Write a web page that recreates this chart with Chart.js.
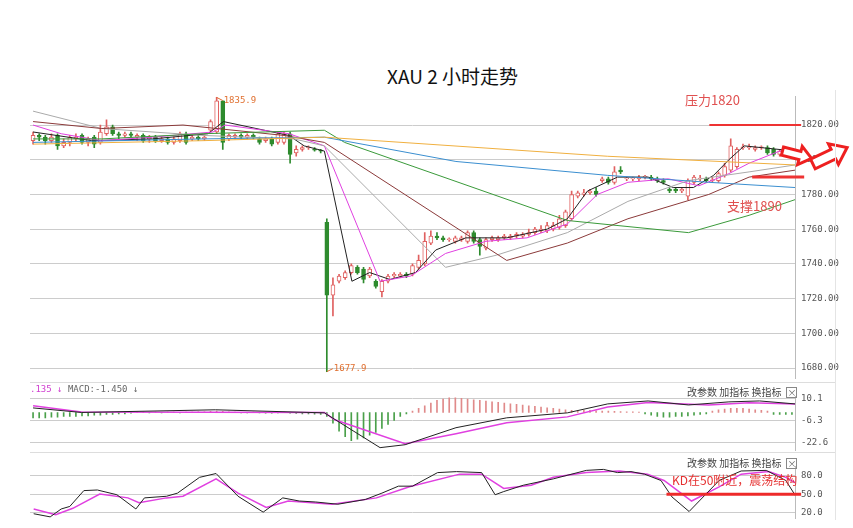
<!DOCTYPE html>
<html><head><meta charset="utf-8">
<script src="https://cdn.jsdelivr.net/npm/chart.js@4.4.0/dist/chart.umd.min.js"></script>
<style>
body{margin:0;background:#fff;width:853px;height:528px;overflow:hidden;position:relative;font-family:"Noto Sans CJK SC",sans-serif}
.p{position:absolute;left:0;width:853px}
.t{position:absolute;white-space:nowrap}
.hdr{font-size:10px;color:#444;letter-spacing:0}
.xb{display:inline-block;width:9px;height:9px;border:1px solid #888;font-size:9px;line-height:9px;text-align:center;color:#666;margin-left:5px}
</style></head><body>
<div class="t" style="left:0;width:905px;text-align:center;top:62px;font-size:19px;color:#111">XAU 2 小时走势</div>
<div class="p" style="top:85px;height:305px"><canvas id="c1" width="853" height="305"></canvas></div>
<div class="p" style="top:382px;height:80px"><canvas id="c2" width="853" height="80"></canvas></div>
<div class="p" style="top:452px;height:78px"><canvas id="c3" width="853" height="78"></canvas></div>
<div class="t" style="left:685px;top:90px;font-size:13px;color:#e05050">压力1820</div>
<div class="t" style="left:727px;top:196px;font-size:13px;color:#e05050">支撑1890</div>
<div class="t" style="left:30px;top:384px;font-size:9px;font-family:'DejaVu Sans Mono'"><span style="color:#d040d0">.135 ↓</span> <span style="color:#666">MACD:-1.450 ↓</span></div>
<div class="t hdr" style="left:687px;top:384px">改参数 加指标 换指标<span class="xb">×</span></div>
<div class="t hdr" style="left:687px;top:455px">改参数 加指标 换指标<span class="xb">×</span></div>
<div class="t" style="left:672px;top:471px;font-size:12px;color:#e53030">KD在50附近，震荡结构</div>
<script>
const opens =[1811,1814,1813,1811,1814,1808,1810,1812,1814,1810,1813,1810,1815,1819,1815,1814,1815,1813,1814,1812,1813,1811,1812,1810,1811,1815,1812,1813,1812,1817,1816,1834,1812,1813,1814,1813,1814,1812,1811,1812,1810,1810,1815,1804,1806,1807,1806,1805.5,1764,1722,1730,1732,1735,1738,1737,1733,1730,1724,1730,1733,1733,1734,1734,1738,1740,1752,1756,1755,1754,1753,1754,1753,1758,1754,1749,1754,1754,1755,1755,1756,1756,1757,1758,1759,1759,1760,1761,1762,1766,1779,1780,1781,1782,1788,1789,1787,1794,1789,1789,1789,1790,1790,1789,1788,1783,1783,1782,1779,1787,1789,1789,1788,1788,1791,1794,1796,1807,1807,1806,1807,1807,1806,1803,1805,1805];
const closes=[1814,1813,1811,1813,1808,1810,1813,1813,1810,1812,1809,1816,1819,1815,1814,1815,1814,1814,1811,1813,1811,1812,1810,1812,1815,1810,1813,1812,1813,1822,1834,1810,1814,1814,1813,1814,1813,1810,1812,1809,1815,1815,1803,1806,1807,1807.5,1805.5,1805,1722,1728,1733,1735,1739,1735,1731,1737,1727,1730,1733,1734,1734,1733,1739,1742,1753,1756,1755,1754,1754.5,1755,1755,1758,1753,1750,1754,1755,1755,1756,1756,1757,1757,1758,1760,1760,1762,1762,1766,1770,1780,1781,1781,1782,1780,1789,1787,1793,1793,1789.5,1789.5,1790,1790.5,1789,1788,1787,1782,1782,1783,1788,1790,1789.5,1788,1788.5,1792,1796,1808,1806,1807.5,1807.5,1807,1807.5,1804,1803,1805,1804,1803];
const highs =[1816,1815,1814,1815,1815,1812,1814,1815,1815,1813,1814,1820,1823,1820,1816,1816,1816,1815,1815,1814,1814,1813,1813,1813,1816,1816,1814,1814,1814,1823,1835.9,1834,1815,1815,1815,1815,1815,1813,1813,1813,1816,1816,1816,1808,1808,1808,1807,1806,1766,1732,1734,1736,1740,1739,1738,1738,1731,1731,1734,1735,1735,1735,1740,1745,1758,1759,1758,1756,1755,1756,1756,1759,1759,1755,1755,1756,1756,1757,1757,1758,1758,1760,1761,1762,1764,1764,1768,1771,1782,1782,1783,1783,1784,1790,1790,1796,1796,1790,1790,1791,1791,1791,1790,1789,1784,1784,1784,1789,1791,1791,1790,1790,1793,1798,1812,1807,1809,1809,1808,1808,1808,1807,1806,1806,1806];
const lows  =[1809,1811,1809,1810,1806,1807,1808,1811,1809,1808,1807,1809,1814,1814,1812,1813,1813,1811,1810,1810,1810,1810,1809,1809,1810,1809,1811,1811,1811,1816,1815,1806,1811,1812,1812,1812,1812,1809,1810,1808,1809,1809,1798,1802,1805,1806,1805,1804,1677.9,1710,1729,1731,1734,1734,1729,1732,1726,1721,1729,1732,1732,1732,1733,1737,1739,1751,1754,1753,1753,1752,1753,1752,1752,1745,1748,1753,1753,1754,1754,1755,1755,1756,1757,1758,1758,1759,1760,1761,1765,1778,1779,1780,1779,1787,1786,1786,1792,1788,1788,1788,1789,1788,1787,1786,1781,1781,1781,1777,1786,1788,1787,1787,1787,1790,1793,1795,1806,1806,1805,1806,1803,1802,1802,1803,1802];
const ma1=[[0,1816],[9.6,1811],[19.5,1812],[28.6,1815],[31.1,1822],[41.8,1814],[44.3,1808],[47.6,1805],[52.1,1730],[55,1735],[58.3,1731],[62.5,1735],[65.8,1748],[70.7,1755],[77.4,1755],[84,1760],[87.3,1766],[90.6,1782],[95.5,1790],[100.5,1790],[104.6,1784],[107.9,1784],[111.2,1791],[113.7,1800],[116.2,1808],[124.5,1805]];
const ma2=[[0,1820],[4.6,1815],[11.2,1811],[19.5,1813],[29.4,1816],[31.4,1820],[41.8,1815],[47.6,1808],[56.7,1730],[61.7,1733],[67.4,1746],[74,1753],[80.7,1755],[87.3,1763],[92.2,1780],[97.2,1787],[103.8,1789],[108.8,1785],[113.7,1792],[117,1798],[122,1805],[124.5,1805]];
const ma3=[[0,1828],[11.2,1818],[27.8,1814],[42.6,1812],[47.6,1808],[67.4,1738],[75.7,1745],[87.3,1758],[97.2,1776],[107.1,1788],[117,1793],[124.5,1797]];
const ma4=[[0,1822],[11.2,1818],[24.5,1820],[41,1814],[47.6,1810],[77.4,1742],[87.3,1752],[97.2,1766],[110.4,1780],[117,1790],[124.5,1794]];
const ma5=[[0,1812],[11.2,1812],[27.8,1815],[47.6,1817],[50.9,1810],[87.3,1765],[107.1,1758],[117,1768],[124.5,1777]];
const ma6=[[0,1810],[27.8,1812],[47.6,1813],[69.1,1799],[93.9,1791],[110.4,1787],[124.5,1784]];
const ma7=[[0,1809],[27.8,1811],[47.6,1813],[93.9,1802],[124.5,1797]];
const priceTicks=[1680,1700,1720,1740,1760,1780,1800,1820];
const macdHist=[-4,-4,-4,-3.5,-3.5,-3,-3,-3,-2.5,-2.5,-2,-2,-1.5,-1.5,-1,-1,-0.5,
 0.3,0.3,-0.3,0.3,-0.3,0.3,0.3,-0.3,0.3,0.3,0.5,0.5,0.8,1,0.8,0.5,0.3,-0.3,-0.3,0.3,-0.3,-0.5,-0.5,-0.3,0.3,-0.5,-0.8,-1,-1,-1.2,-1.5,
 -3,-8,-14,-18,-21,-20,-19,-17,-15,-12,-9,-6,-3,-1,
 1,3,5,7,9,10,11,11,10.5,10,9.5,9,8.5,8,7.5,7,6.5,6,5.5,5,4.5,4,3.5,3,2.5,2,1.5,1,
 1.5,1.5,1.2,1,1,0.8,0.6,0.5,0.4,0.3,
 -1,-2,-3,-3.5,-3.5,-3,-3,-2.5,-2,-1.5,-1,
 1,2,2.5,3,3,3,2.5,2,1.5,1,
 -1.5,-1.5,-1.5,-1.5];
const dif=[[0,3.4],[7.9,0],[29.8,2],[47.6,-0.3],[56.7,-26.3],[60.8,-24.1],[69.1,-11.4],[77.4,-4],[87.3,-0.3],[93.9,6.4],[100.5,8.6],[107.1,5.6],[113.7,7.9],[118.7,8.6],[124.5,6.4]];
const dea=[[0,5],[7.9,0.4],[47.6,0],[49.3,-5.5],[60.8,-23.3],[69.1,-15.9],[77.4,-7.7],[87.3,-3.3],[93.9,4],[100.5,7.5],[110.4,5.6],[117,7.2],[124.5,6.4]];
const macdTicks=[10.1,-6.3,-22.6];
const kLine=[[0.1,18.4],[2.8,13.3],[4.6,26.1],[6,30.2],[8.3,55.9],[10.5,56.9],[13.7,49.2],[16.8,26.1],[18.2,44.1],[21.8,46.7],[23.6,51.8],[27.2,77.4],[29.9,83.6],[33.5,46.7],[37.6,21],[40.8,44.1],[43.5,39],[46.2,37.4],[49.8,33.8],[54.3,41.5],[57,51.8],[59.7,63.1],[62,63.1],[66.1,85.1],[69.2,86.7],[73.3,85.1],[75.5,49.2],[76.9,54.3],[80.1,64.6],[85,74.9],[90.4,88.7],[93.2,90.3],[95.5,85.1],[97.7,86.7],[99.9,82.6],[102.6,72.3],[104.4,45.6],[107.2,22],[109,40.5],[112.1,72.3],[115.7,87.7],[119.8,88.7],[123,72.3],[124.8,44.1]];
const dLine=[[0.1,26.1],[3.7,16.9],[6.5,27.2],[10.9,50.2],[15.5,44.1],[17.3,36.4],[21.8,44.1],[24.5,46.7],[29.9,74.9],[33.5,51.8],[38.1,28.7],[41.7,39],[48.9,33.8],[56.1,44.1],[61.5,62],[69.7,82.6],[73.3,82.6],[76.9,59.5],[81.4,64.6],[85,77.4],[90.4,85.1],[95.8,87.7],[100.4,82.6],[103.1,72.3],[107.6,39],[112.1,62],[115.7,82.6],[120.2,86.7],[123,77.4],[124.5,69]];
const kdTicks=[80,50,20];

const RED='#e06060', GRN='#2e8b2e';
const idx=opens.map((_,i)=>i);
const up=i=>closes[i]>=opens[i];
const pts=a=>a.map(p=>({x:p[0],y:p[1]}));
const line=(d,c,w)=>({type:'line',data:pts(d),borderColor:c,borderWidth:w||1,pointRadius:0,tension:0,order:0});
const xScale={type:'linear',min:-0.5,max:124.5,display:false,offset:false};
function yScale(min,max,ticks,fmt){return {position:'right',min,max,
  afterBuildTicks:s=>{s.ticks=ticks.map(v=>({value:v}))},
  afterFit:s=>{s.width=58},
  border:{display:true,color:'#bbb'},
  grid:{color:'#ccc',borderDash:[1,3],drawTicks:false,lineWidth:1},
  ticks:{padding:6,color:'#555',font:{family:'DejaVu Sans Mono',size:9},callback:fmt}};}
const common={responsive:false,animation:false,plugins:{legend:{display:false},tooltip:{enabled:false}}};

const annot={id:'annot',afterDatasetsDraw(ch){
  const c=ch.ctx,x=ch.scales.x,y=ch.scales.y;
  c.save();
  c.strokeStyle='#ee3333';c.lineWidth=2;
  c.beginPath();c.moveTo(x.getPixelForValue(110.5),y.getPixelForValue(1820));c.lineTo(x.getPixelForValue(125.5),y.getPixelForValue(1820));c.stroke();
  c.lineWidth=3;
  c.beginPath();c.moveTo(x.getPixelForValue(117.5),y.getPixelForValue(1790));c.lineTo(x.getPixelForValue(126),y.getPixelForValue(1790));c.stroke();
  c.fillStyle='#e07030';c.strokeStyle='#e07030';c.lineWidth=1;c.font='9px DejaVu Sans Mono';
  let px=x.getPixelForValue(30),py=y.getPixelForValue(1835.9);
  c.beginPath();c.moveTo(px,py);c.lineTo(px+6,py+3);c.stroke();c.fillText('1835.9',px+7,py+6);
  px=x.getPixelForValue(48);py=y.getPixelForValue(1677.9);
  c.beginPath();c.moveTo(px,py);c.lineTo(px+6,py-3);c.stroke();c.fillText('1677.9',px+7,py-1);
  function arrow(cx,cy,len,ang){c.save();c.translate(cx,cy);c.rotate(ang);c.beginPath();
    const L=len,h=L*0.28,H=L*0.5;
    c.moveTo(-L/2,-h/2);c.lineTo(L*0.1,-h/2);c.lineTo(L*0.1,-H/2-2);c.lineTo(L/2,0);c.lineTo(L*0.1,H/2+2);c.lineTo(L*0.1,h/2);c.lineTo(-L/2,h/2);c.closePath();
    c.fillStyle='#fff';c.fill();c.strokeStyle='#ee2020';c.lineWidth=3;c.stroke();c.restore();}
  const yb=y.getPixelForValue(1800);
  arrow(797,yb-5,30,0.25);
  arrow(830,yb-4,38,-0.45);
  c.restore();}};

new Chart(document.getElementById('c1'),{data:{datasets:[
  line(ma7,'#f0b040'),line(ma6,'#3b8fd0'),line(ma5,'#3a9a3a'),line(ma4,'#8b3a3a'),line(ma3,'#aaaaaa'),line(ma2,'#e040e0'),line(ma1,'#222222'),
  {type:'bar',data:idx.map(i=>({x:i,y:[lows[i],highs[i]]})),barThickness:1,grouped:false,order:3,
   backgroundColor:idx.map(i=>up(i)?RED:GRN)},
  {type:'bar',data:idx.map(i=>({x:i,y:[opens[i],closes[i]]})),barThickness:4,grouped:false,order:2,borderSkipped:false,
   backgroundColor:idx.map(i=>up(i)?'#ffffff':GRN),borderColor:idx.map(i=>up(i)?RED:GRN),borderWidth:1}
 ]},
 options:{...common,layout:{padding:{left:30,top:0,bottom:0,right:0}},
  scales:{x:xScale,y:yScale(1673.9,1836.5,priceTicks,v=>v.toFixed(2))}},
 plugins:[annot]});

new Chart(document.getElementById('c2'),{data:{datasets:[
  line(dif,'#222222'),line(dea,'#e040e0',1.5),
  {type:'bar',data:idx.map(i=>({x:i,y:macdHist[i]})),barThickness:1,grouped:false,order:2,
   backgroundColor:macdHist.map(v=>v>=0?'#e08a8a':'#4aa04a')}]},
 options:{...common,layout:{padding:{left:30,top:14,bottom:0,right:0}},
  scales:{x:xScale,y:yScale(-28.5,12.3,macdTicks,v=>v.toFixed(1))}}});

const kdPlug={id:'kd',afterDatasetsDraw(ch){const c=ch.ctx,x=ch.scales.x,y=ch.scales.y;
  c.save();c.strokeStyle='#ee2a2a';c.lineWidth=3;c.beginPath();
  c.moveTo(x.getPixelForValue(103.5),y.getPixelForValue(50));c.lineTo(x.getPixelForValue(125.5),y.getPixelForValue(50));c.stroke();c.restore();}};
new Chart(document.getElementById('c3'),{data:{datasets:[line(kLine,'#222222'),line(dLine,'#e040e0',1.5)]},
 options:{...common,layout:{padding:{left:30,top:14,bottom:0,right:0}},
  scales:{x:xScale,y:yScale(10.5,95.8,kdTicks,v=>v.toFixed(1))}},plugins:[kdPlug]});
</script>
<div style="position:absolute;left:30px;top:382px;width:805px;height:1px;background:#ddd"></div>
<div style="position:absolute;left:30px;top:452px;width:805px;height:1px;background:#ddd"></div>
<div style="position:absolute;left:835px;top:90px;width:1px;height:430px;background:#e4e4e4"></div>
</body></html>
